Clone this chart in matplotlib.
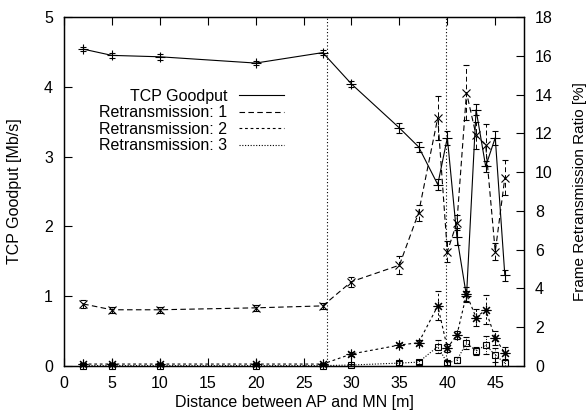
import matplotlib
matplotlib.use("Agg")
import matplotlib.pyplot as plt
from matplotlib.lines import Line2D

plt.rcParams['font.family'] = ['Liberation Sans', 'DejaVu Sans']
plt.rcParams['font.size'] = 11.5

# Data (distance in m)
distance = [2, 5, 10, 20, 27, 30, 35, 37, 39, 40, 41, 42, 43, 44, 45, 46]
goodput = [4.54, 4.45, 4.43, 4.34, 4.49, 4.04, 3.41, 3.14, 2.60, 3.27, 1.85, 1.00, 3.67, 2.86, 3.27, 1.30]
goodput_err = [0.03, 0.04, 0.04, 0.03, 0.04, 0.05, 0.07, 0.07, 0.08, 0.10, 0.12, 0.07, 0.08, 0.08, 0.10, 0.08]
retx1 = [3.2, 2.9, 2.9, 3.0, 3.1, 4.35, 5.2, 7.9, 12.8, 5.9, 7.4, 14.1, 11.9, 11.4, 5.9, 9.7]
retx1_err = [0.2, 0.15, 0.15, 0.15, 0.15, 0.25, 0.45, 0.4, 1.15, 0.55, 0.4, 1.4, 0.7, 1.1, 0.45, 0.9]
retx2 = [0.1, 0.1, 0.1, 0.1, 0.1, 0.62, 1.08, 1.2, 3.1, 0.93, 1.6, 3.7, 2.5, 2.9, 1.44, 0.67]
retx2_err = [0.05, 0.05, 0.05, 0.05, 0.05, 0.12, 0.12, 0.12, 0.75, 0.2, 0.2, 0.4, 0.45, 0.75, 0.35, 0.3]
retx3 = [0.02, 0.02, 0.02, 0.02, 0.02, 0.05, 0.15, 0.2, 1.0, 0.15, 0.3, 1.2, 0.77, 1.08, 0.57, 0.15]
retx3_err = [0.02, 0.02, 0.02, 0.02, 0.02, 0.05, 0.1, 0.1, 0.35, 0.1, 0.15, 0.3, 0.2, 0.45, 0.35, 0.15]
walls = [27.4, 39.9]

labels = ['TCP Goodput', 'Retransmission: 1', 'Retransmission: 2', 'Retransmission: 3']
styles = ['-', (0, (5, 3)), (0, (2.5, 2.5)), (0, (1, 1.5))]

fig = plt.figure(figsize=(5.88, 4.19), dpi=100)
W, H = 588.0, 419.0
ax = fig.add_axes([64 / W, (H - 366) / H, (524 - 64) / W, (366 - 17) / H])
ax2 = ax.twinx()

lw = 0.8
for w in walls:
    ax.axvline(w, color='k', lw=lw, ls=(0, (1, 2)))

def draw(a, y, e, ls, marker, ms, mfc='k'):
    eb = a.errorbar(distance, y, yerr=e, color='k', lw=lw, ls=ls, marker=marker,
                    ms=ms, mfc=mfc, mec='k', mew=0.8, capsize=2.5, elinewidth=0.7,
                    capthick=0.7, clip_on=False, zorder=3)
    for c in eb[2]:
        c.set_linestyle(ls)
        c.set_clip_on(False)
    for c in eb[1]:
        c.set_clip_on(False)
    return eb

draw(ax, goodput, goodput_err, '-', '+', 7)
draw(ax2, retx1, retx1_err, styles[1], 'x', 6)
draw(ax2, retx2, retx2_err, styles[2], (8, 2, 0), 7)
draw(ax2, retx3, retx3_err, styles[3], 's', 5, mfc='none')

ax.set_xlim(0, 48)
ax.set_ylim(0, 5)
ax2.set_ylim(0, 18)
ax.set_xticks(range(0, 46, 5))
ax.set_yticks(range(0, 6))
ax2.set_yticks(range(0, 19, 2))

ax.tick_params(axis='x', direction='in', top=True, bottom=True, length=6, width=0.8, pad=7)
ax.tick_params(axis='y', direction='in', left=True, right=False, length=6, width=0.8, pad=8)
ax2.tick_params(axis='y', direction='in', right=True, left=False, length=6, width=0.8, pad=8)
for a in (ax, ax2):
    for s in a.spines.values():
        s.set_linewidth(0.9)

ax.set_xlabel('Distance between AP and MN [m]')
ax.set_ylabel('TCP Goodput [Mb/s]')
ax2.set_ylabel('Frame Retransmission Ratio [%]', fontsize=11)
ax.yaxis.set_label_coords((22 - 64) / 460, 0.5)
ax2.yaxis.set_label_coords((573 - 64) / 460, 0.5)
ax.xaxis.set_label_coords(0.5, (366 - 395) / 349)

handles = [Line2D([], [], color='k', lw=lw, ls=s) for s in styles]
ax2.legend(handles, labels, loc='upper right', bbox_to_anchor=(0.495, 0.818),
           frameon=False, markerfirst=False, borderpad=0, labelspacing=0.1,
           handlelength=2.8, handletextpad=0.75, fontsize=11.5)

fig.savefig('out.png', dpi=100)
